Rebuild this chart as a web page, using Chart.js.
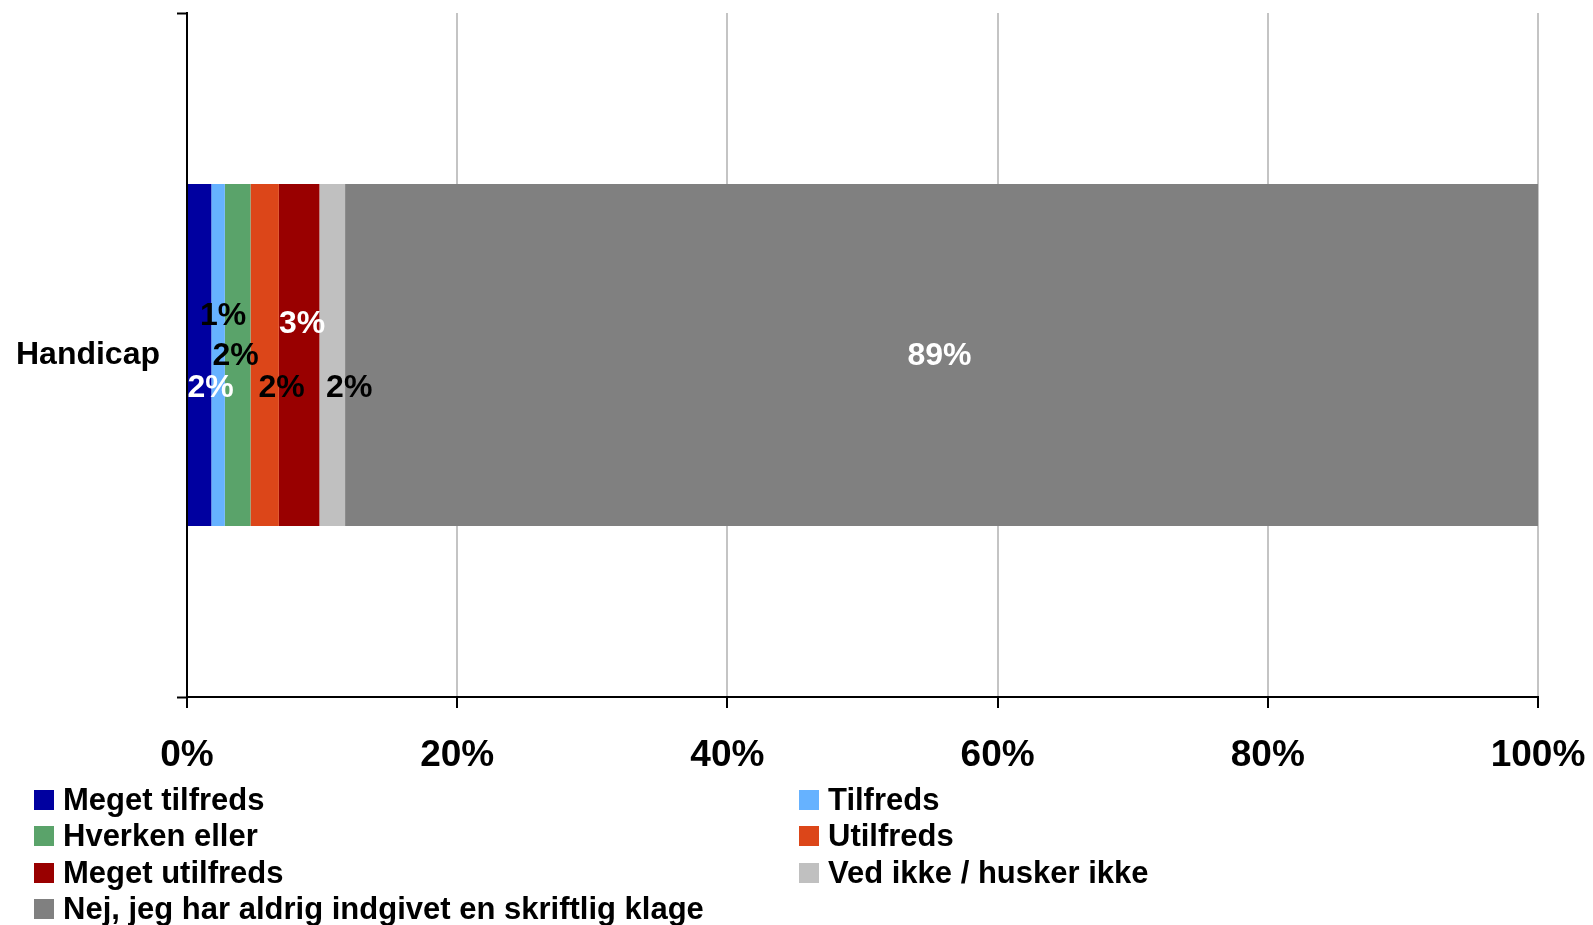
<!DOCTYPE html>
<html>
<head>
<meta charset="utf-8">
<script src="https://cdn.jsdelivr.net/npm/chart.js@4/dist/chart.umd.min.js"></script>
<style>
  html, body { margin: 0; padding: 0; background: #fff; }
  #wrap { position: relative; width: 1593px; height: 925px; }
  #legend {
    position: absolute; left: 34px; top: 782px;
    display: grid; grid-template-columns: 765px auto; grid-auto-rows: 36.3px;
    font-family: "Liberation Sans", Arial, sans-serif; font-weight: bold; font-size: 31px; color: #000;
  }
  .item { display: flex; align-items: center; white-space: nowrap; }
  .sw { width: 20px; height: 20px; margin-right: 9px; flex: none; }
</style>
</head>
<body>
<div id="wrap">
  <canvas id="c" width="1593" height="925"></canvas>
  <div id="legend"></div>
</div>
<script>
// ---- data ----
const categories = ['Handicap'];
const seriesNames = [
  'Meget tilfreds',
  'Tilfreds',
  'Hverken eller',
  'Utilfreds',
  'Meget utilfreds',
  'Ved ikke / husker ikke',
  'Nej, jeg har aldrig indgivet en skriftlig klage'
];
const seriesValues = [1.8, 1.0, 1.9, 2.1, 3.0, 1.9, 88.3];
const valueLabels = ['2%', '1%', '2%', '2%', '3%', '2%', '89%'];
const tickLabels = ['0%', '20%', '40%', '60%', '80%', '100%'];

// ---- styling ----
const seriesColors = ['#0000A0', '#66B2FF', '#5AA36A', '#DC4619', '#990000', '#C0C0C0', '#808080'];
const labelColors = ['#fff', '#000', '#000', '#000', '#fff', '#000', '#fff'];
const labelNudgeX = [11, 5, -2, 17, 3, 17, -2];
const labelNudgeY = [33, -39, 1, 33, -31, 33, 1];

const FONT = '"Liberation Sans", Arial, sans-serif';

const datasets = seriesNames.map((name, i) => ({
  label: name,
  data: [seriesValues[i]],
  backgroundColor: seriesColors[i],
  borderWidth: 0,
  categoryPercentage: 1.0,
  barPercentage: 0.5
}));

const barLabelPlugin = {
  id: 'barLabels',
  afterDatasetsDraw(chart) {
    const ctx = chart.ctx;
    ctx.save();
    ctx.font = 'bold 32px ' + FONT;
    ctx.textAlign = 'center';
    ctx.textBaseline = 'middle';
    chart.data.datasets.forEach((ds, i) => {
      const bar = chart.getDatasetMeta(i).data[0];
      const cx = (bar.x + bar.base) / 2;
      ctx.fillStyle = labelColors[i];
      ctx.fillText(valueLabels[i], cx + labelNudgeX[i], bar.y + labelNudgeY[i]);
    });
    ctx.restore();
  }
};

new Chart(document.getElementById('c'), {
  type: 'bar',
  data: { labels: categories, datasets },
  options: {
    indexAxis: 'y',
    responsive: false,
    animation: false,
    layout: { padding: { top: 13, right: 55, left: 0, bottom: 0 } },
    plugins: { legend: { display: false }, tooltip: { enabled: false } },
    scales: {
      x: {
        stacked: true, min: 0, max: 100,
        ticks: {
          stepSize: 20, color: '#000', padding: 26,
          font: { family: FONT, size: 37, weight: 'bold' },
          callback: (v, idx) => tickLabels[idx]
        },
        grid: {
          color: ctx => ctx.index === 0 ? 'rgba(0,0,0,0)' : '#C4C4C4',
          lineWidth: 2, tickColor: '#000', tickLength: 11, tickWidth: 2
        },
        border: { display: true, color: '#000', width: 2 },
        afterFit: s => { s.height = 228; s.paddingLeft = 0; s.paddingRight = 0; s.paddingTop = 0; s.paddingBottom = 0; }
      },
      y: {
        stacked: true,
        ticks: { color: '#000', padding: 17, font: { family: FONT, size: 32, weight: 'bold' } },
        grid: { offset: true, drawOnChartArea: false, tickColor: '#000', tickLength: 10, tickWidth: 2 },
        border: { display: true, color: '#000', width: 2 },
        afterFit: s => { s.width = 187; s.paddingLeft = 0; s.paddingRight = 0; s.paddingTop = 0; s.paddingBottom = 0; }
      }
    }
  },
  plugins: [barLabelPlugin]
});

const legend = document.getElementById('legend');
seriesNames.forEach((name, i) => {
  const it = document.createElement('div');
  it.className = 'item';
  const sw = document.createElement('span');
  sw.className = 'sw';
  sw.style.background = seriesColors[i];
  const tx = document.createElement('span');
  tx.textContent = name;
  it.appendChild(sw); it.appendChild(tx);
  legend.appendChild(it);
});
</script>
</body>
</html>
